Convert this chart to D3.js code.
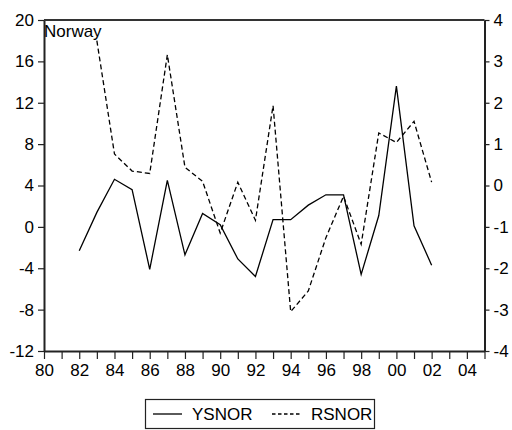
<!DOCTYPE html>
<html><head><meta charset="utf-8">
<script src="https://cdn.jsdelivr.net/npm/d3@7"></script>
<style>body{margin:0;background:#fff;} svg{display:block;font-family:"Liberation Sans",Arial,sans-serif;}</style>
</head><body>
<svg id="c" width="512" height="430"></svg>
<script>
const years = [1982,1983,1984,1985,1986,1987,1988,1989,1990,1991,1992,1993,1994,1995,1996,1997,1998,1999,2000,2001,2002];
const ysnor = [-2.3,1.4,4.6,3.6,-4.1,4.5,-2.7,1.3,0.2,-3.1,-4.8,0.7,0.7,2.1,3.1,3.1,-4.6,1.1,13.6,0.1,-3.7];
const rsYears = [1983,1984,1985,1986,1987,1988,1989,1990,1991,1992,1993,1994,1995,1996,1997,1998,1999,2000,2001,2002];
const rsnor = [3.5,0.76,0.35,0.29,3.16,0.44,0.1,-1.15,0.08,-0.84,1.93,-3.05,-2.55,-1.26,-0.26,-1.42,1.27,1.04,1.55,0.08];
const leftTicks = [-12,-8,-4,0,4,8,12,16,20];
const rightTicks = [-4,-3,-2,-1,0,1,2,3,4];
const xTicks = d3.range(1980,2006);
const seriesNames = ["YSNOR","RSNOR"];
const title = "Norway";

const FS = 17;
const L=44, R=484.5, T=20, B=351;
const svg = d3.select("#c");
const x = d3.scaleLinear().domain([1980,2005]).range([L,R]);
const yl = d3.scaleLinear().domain([-12,20]).range([B,T]);
const yr = d3.scaleLinear().domain([-4,4]).range([B,T]);

const fmtX = d => (d%2===0 && d<2005) ? String(d%100).padStart(2,"0") : "";
const fmtY = d => String(d);

const ax = svg.append("g").attr("transform",`translate(0,${B})`)
  .call(d3.axisBottom(x).tickValues(xTicks).tickFormat(fmtX).tickSizeInner(8).tickSizeOuter(0).tickPadding(5));
const axL = svg.append("g").attr("transform",`translate(${L},0)`)
  .call(d3.axisLeft(yl).tickValues(leftTicks).tickFormat(fmtY).tickSizeInner(6).tickSizeOuter(0).tickPadding(4));
const axR = svg.append("g").attr("transform",`translate(${R},0)`)
  .call(d3.axisRight(yr).tickValues(rightTicks).tickFormat(fmtY).tickSizeInner(5).tickSizeOuter(0).tickPadding(4));
[ax,axL,axR].forEach(g=>{
  g.selectAll("text").attr("font-size",FS).attr("fill","#000").attr("font-family","Liberation Sans, Arial, sans-serif");
  g.selectAll("line").attr("stroke","#222").attr("stroke-width",1.2);
  g.select(".domain").attr("stroke","#222").attr("stroke-width",2);
});
svg.append("line").attr("x1",L).attr("x2",R).attr("y1",T).attr("y2",T).attr("stroke","#333").attr("stroke-width",2);

const lineY = d3.line().x((d,i)=>x(years[i])).y(d=>yl(d));
const lineR = d3.line().x((d,i)=>x(rsYears[i])).y(d=>yr(d));
svg.append("path").datum(ysnor).attr("d",lineY).attr("fill","none").attr("stroke","#000").attr("stroke-width",1.3);
svg.append("path").datum(rsnor).attr("d",lineR).attr("fill","none").attr("stroke","#000").attr("stroke-width",1.3).attr("stroke-dasharray","5,3");

svg.append("text").attr("x",L).attr("y",37).attr("font-size",FS).text(title);

// legend
svg.append("rect").attr("x",145.5).attr("y",399.5).attr("width",229).attr("height",29).attr("fill","#fff").attr("stroke","#222").attr("stroke-width",1.2);
svg.append("line").attr("x1",153).attr("x2",182).attr("y1",414).attr("y2",414).attr("stroke","#000").attr("stroke-width",1.3);
svg.append("text").attr("x",192).attr("y",420).attr("font-size",FS).text(seriesNames[0]);
svg.append("line").attr("x1",272).attr("x2",301).attr("y1",414).attr("y2",414).attr("stroke","#000").attr("stroke-width",1.3).attr("stroke-dasharray","3.5,2.5");
svg.append("text").attr("x",311).attr("y",420).attr("font-size",FS).text(seriesNames[1]);
</script>
</body></html>
